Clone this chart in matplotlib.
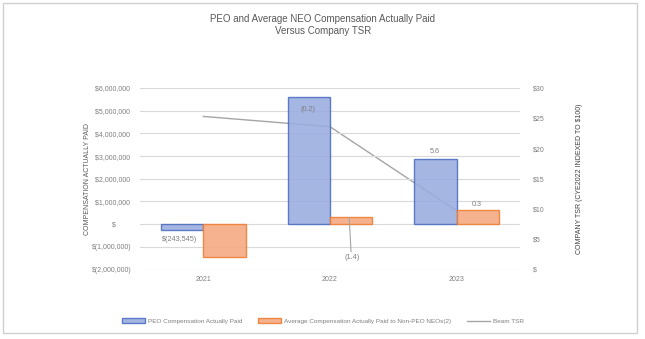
import matplotlib
matplotlib.use("Agg")
import matplotlib.pyplot as plt
from matplotlib import font_manager
from matplotlib.patches import Rectangle
from matplotlib.ticker import FuncFormatter, FixedLocator

names = {f.name for f in font_manager.fontManager.ttflist}
fam = "Liberation Sans Narrow" if "Liberation Sans Narrow" in names else "Liberation Sans"
plt.rcParams['font.family'] = [fam, 'DejaVu Sans']

years = ["2021", "2022", "2023"]
peo_cap = [-243545, 5620000, 2870000]
neo_cap = [-1460000, 315000, 620000]
beam_tsr = [25.3, 23.6, 9.7]
left_ticks = [-2000000, -1000000, 0, 1000000, 2000000, 3000000, 4000000, 5000000, 6000000]
right_ticks = [0, 5, 10, 15, 20, 25, 30]
data_labels = ["$(243,545)", "(0.2)", "(1.4)", "5.6", "0.3"]

GRAY = "#7f7f7f"
fig = plt.figure(figsize=(6.45, 3.39), dpi=100)
fig.patches.append(Rectangle((3/645, 6/339), 634/645, 330/339, transform=fig.transFigure,
                             fill=False, edgecolor="#d0d0d0", linewidth=1))

ax = fig.add_axes([140/645, 1-269.5/339, 380/645, 181.5/339])
ax2 = ax.twinx()
ax.set_zorder(ax2.get_zorder() + 1)
ax.patch.set_visible(False)

x = list(range(len(years)))
w = 0.335
ax.bar([i - w/2 for i in x], peo_cap, width=w, color="#9aace0", edgecolor="#4a6cc0",
       linewidth=1, alpha=0.88, label="PEO Compensation Actually Paid", zorder=3)
ax.bar([i + w/2 for i in x], neo_cap, width=w, color="#f5a880", edgecolor="#ed7d31",
       linewidth=1, alpha=0.88, label="Average Compensation Actually Paid to Non-PEO NEOs(2)", zorder=3)
ln, = ax2.plot(x, beam_tsr, color="#a5a5a5", linewidth=1, label="Beam TSR")

ax.set_xlim(-0.5, 2.5)
ax.set_ylim(-2000000, 6000000)
ax2.set_ylim(0, 30)
ax.yaxis.set_major_locator(FixedLocator(left_ticks))
ax2.yaxis.set_major_locator(FixedLocator(right_ticks))

def lfmt(v, p):
    if v == 0:
        return "$        "
    if v < 0:
        return "$(" + format(int(-v), ",") + ")"
    return "$" + format(int(v), ",") + " "
def rfmt(v, p):
    if v == 0:
        return "$   "
    return "$" + str(int(v))
ax.yaxis.set_major_formatter(FuncFormatter(lfmt))
ax2.yaxis.set_major_formatter(FuncFormatter(rfmt))
ax.set_xticks(x)
ax.set_xticklabels(years)

ax.grid(axis="y", color="#d9d9d9", linewidth=0.8, zorder=0)
ax2.grid(False)
for a in (ax, ax2):
    for s in a.spines.values():
        s.set_visible(False)
    a.tick_params(length=0, labelsize=5.0, labelcolor=GRAY)
ax.tick_params(axis="y", pad=6)
ax2.tick_params(axis="y", pad=9)
ax.tick_params(axis="x", pad=5)

ax.set_ylabel("COMPENSATION ACTUALLY PAID", fontsize=5.0, color="#595959", labelpad=1)
ax2.set_ylabel("COMPANY TSR (CYE2022 INDEXED TO $100)", fontsize=5.0, color="#404040",
               rotation=90, labelpad=23)

lbl_pos = [(-0.184, -686000), (0.826, 5070000), (1.171, -1460000), (1.829, 3190000), (2.158, 870000)]
for t, (px, py) in zip(data_labels, lbl_pos):
    ax.text(px, py, t, ha="center", va="center", fontsize=5.2, color=GRAY, zorder=5)
ax.plot([1.152, 1.166], [270000, -1210000], color="#a5a5a5", linewidth=0.8, zorder=4)

fig.text(323/645, 1-25/339, "PEO and Average NEO Compensation Actually Paid\nVersus Company TSR",
         ha="center", va="center", fontsize=7.0, color="#595959", linespacing=1.25)

h1, l1 = ax.get_legend_handles_labels()
fig.legend(h1 + [ln], l1 + ["Beam TSR"], loc="center", bbox_to_anchor=(323/645, 1-321/339),
           ncol=3, frameon=False, fontsize=4.6, labelcolor=GRAY, handlelength=3.6,
           handleheight=0.7, columnspacing=2.4, handletextpad=0.5)

fig.savefig("out.png", dpi=100)
